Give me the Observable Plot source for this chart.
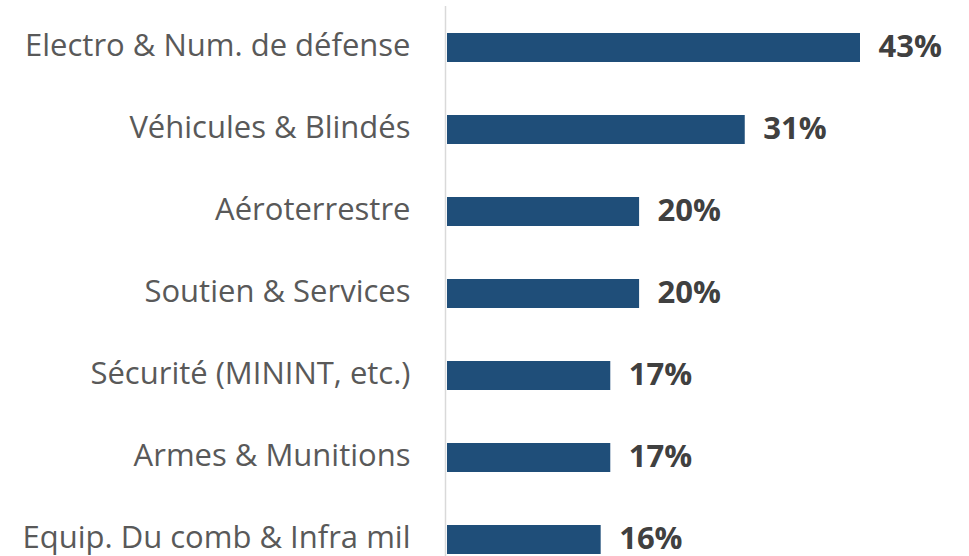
<!DOCTYPE html>
<html>
<head>
<meta charset="utf-8">
<script src="https://cdn.jsdelivr.net/npm/d3@7"></script>
<script src="https://cdn.jsdelivr.net/npm/@observablehq/plot@0.6"></script>
<style>
  html, body { margin: 0; padding: 0; background: #fff; }
</style>
</head>
<body>
<div id="chart"></div>
<script>
const categories = [
  "Electro & Num. de défense",
  "Véhicules & Blindés",
  "Aéroterrestre",
  "Soutien & Services",
  "Sécurité (MININT, etc.)",
  "Armes & Munitions",
  "Equip. Du comb & Infra mil"
];
const values = [43, 31, 20, 20, 17, 17, 16];
const valueLabels = ["43%", "31%", "20%", "20%", "17%", "17%", "16%"];

const data = categories.map((c, i) => ({ category: c, value: values[i], label: valueLabels[i] }));

const chart = Plot.plot({
  width: 969,
  height: 556,
  marginLeft: 447,
  marginRight: 109,
  marginTop: 6,
  marginBottom: 0,
  style: { fontFamily: "'Open Sans', sans-serif", color: "#595959", background: "#fff", overflow: "visible" },
  x: { domain: [0, 43], axis: null },
  y: { domain: categories, range: [-21.2, 607.4], padding: 0.647, label: null },
  marks: [
    Plot.barX(data, { x: "value", y: "category", fill: "#1f4e79" }),
    Plot.ruleX([0], { stroke: "#d9d9d9", strokeWidth: 1.5, dx: -2 }),
    Plot.axisY({ tickSize: 0, tickPadding: 37, fontSize: 31, dy: -2, label: null }),
    Plot.text(data, {
      x: "value", y: "category", text: "label",
      textAnchor: "start", dx: 18, dy: -1, fontSize: 31, fontWeight: "bold", fill: "#404040"
    })
  ]
});
document.getElementById("chart").appendChild(chart);
</script>
</body>
</html>
